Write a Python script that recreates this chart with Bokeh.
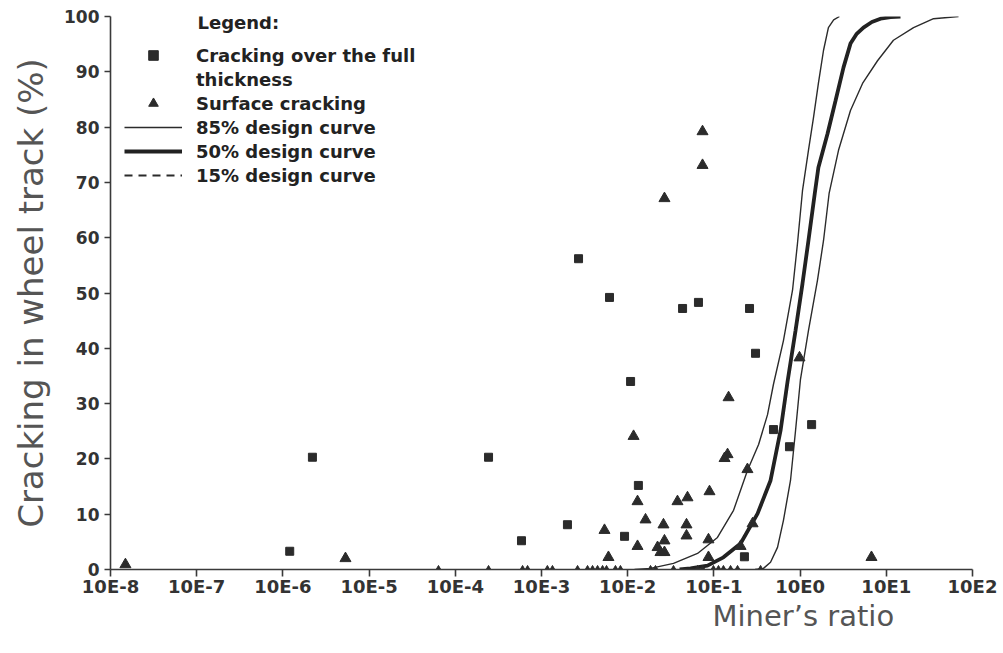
from bokeh.plotting import figure
from bokeh.models import (Range1d, FixedTicker, CustomJSTickFormatter, Legend,
                          LegendItem, Label, Title)
from bokeh.embed import file_html
from bokeh.resources import INLINE

# ---- axis ticks -------------------------------------------------------------
x_ticks = [1e-8, 1e-7, 1e-6, 1e-5, 1e-4, 1e-3, 1e-2, 1e-1, 1e0, 1e1, 1e2]
x_tick_labels = ["10E-8", "10E-7", "10E-6", "10E-5", "10E-4", "10E-3",
                 "10E-2", "10E-1", "10E0", "10E1", "10E2"]
y_ticks = [0, 10, 20, 30, 40, 50, 60, 70, 80, 90, 100]

# ---- cracking over the full thickness (Miner's ratio, % cracking) ----------
full_x = [1.20e-6, 2.20e-6, 2.43e-4, 5.86e-4, 2.00e-3, 2.69e-3, 6.15e-3,
          0.0433, 0.0662, 0.259, 0.304, 0.0108, 0.0133, 9.19e-3, 1.36,
          0.753, 0.226, 0.491]
full_y = [3.3, 20.3, 20.3, 5.2, 8.1, 56.2, 49.2,
          47.2, 48.3, 47.2, 39.1, 34.0, 15.2, 6.0, 26.2,
          22.2, 2.3, 25.3]

# ---- surface cracking -------------------------------------------------------
surf_x = [1.49e-8, 5.32e-6, 0.0738, 0.0738, 0.0267, 0.148, 0.0117, 0.144,
          0.133, 0.245, 0.0889, 0.0494, 0.0378, 0.0130, 0.0161, 0.0260,
          0.0481, 0.0481, 5.38e-3, 0.0130, 0.0267, 0.0222, 0.0240, 0.0267,
          5.98e-3, 0.0865, 0.0865, 0.984, 0.281, 0.204, 6.73]
surf_y = [0.9, 2.0, 79.2, 73.1, 67.1, 31.1, 24.1, 20.8,
          20.1, 18.1, 14.1, 13.0, 12.3, 12.3, 9.0, 8.1,
          8.1, 6.1, 7.1, 4.2, 5.2, 4.0, 3.1, 3.1,
          2.2, 5.4, 2.2, 38.3, 8.3, 4.2, 2.2]

# surface cracking sections with no measured cracking
zero_x = [6.38e-5, 2.43e-4, 6.03e-4, 6.89e-4, 1.17e-3, 1.34e-3, 2.62e-3,
          3.42e-3, 3.91e-3, 4.47e-3, 5.11e-3, 5.68e-3, 7.21e-3, 8.24e-3,
          0.0184, 0.0210, 0.0340, 0.0646, 0.0738, 0.0988, 0.113, 0.129,
          0.156, 0.188, 0.348]
zero_y = [0, 0, 0, 0, 0, 0, 0, 0, 0, 0, 0, 0, 0, 0,
          0, 0, 0, 0, 0, 0, 0, 0, 0, 0, 0]

# ---- design curves ----------------------------------------------------------
c85_x = [0.012, 0.0184, 0.034, 0.0646, 0.110, 0.169, 0.245, 0.330, 0.419,
         0.491, 0.641, 0.817, 0.933, 1.066, 1.25, 1.43, 1.63, 1.87, 2.13,
         2.45, 2.86]
c85_y = [0.0, 0.2, 1.1, 2.9, 5.8, 10.7, 17.9, 22.6, 28.0,
         33.5, 41.4, 50.5, 59.0, 68.5, 75.8, 81.7, 87.9, 93.9, 98.0,
         99.4, 100.0]

c50_x = [0.040, 0.0536, 0.0843, 0.129, 0.204, 0.321, 0.454, 0.593, 0.714,
         0.885, 1.066, 1.25, 1.48, 1.63, 2.08, 2.58, 3.19, 3.84, 4.50,
         5.43, 6.80, 8.57, 11.2, 14.6]
c50_y = [0.0, 0.2, 0.7, 2.2, 4.7, 10.1, 16.1, 25.1, 33.9,
         43.2, 51.7, 59.5, 68.0, 72.7, 78.8, 84.8, 90.8, 95.1, 96.8,
         98.0, 99.0, 99.6, 99.9, 100.0]

c15_x = [0.30, 0.376, 0.454, 0.547, 0.641, 0.774, 0.885, 1.01, 1.25, 1.59,
         1.87, 2.17, 2.79, 3.84, 5.30, 7.91, 12.1, 20.7, 35.3, 68.9]
c15_y = [0.0, 0.2, 1.3, 4.0, 8.9, 16.1, 25.1, 34.4, 43.2, 52.3,
         59.5, 68.0, 75.8, 83.0, 87.9, 92.0, 95.7, 98.0, 99.6, 100.0]

INK = "#2b2b2b"
AXIS = "#3a3a3a"

p = figure(width=1003, height=653, x_axis_type="log",
           x_range=Range1d(1e-8, 1e2), y_range=Range1d(0, 100),
           output_backend="svg", toolbar_location=None,
           min_border_left=110, min_border_right=31,
           min_border_top=16, min_border_bottom=84)
p.outline_line_color = None
p.xgrid.visible = False
p.ygrid.visible = False
p.background_fill_color = "white"
p.border_fill_color = "white"

# x axis: decades labelled in the 10E-n style
p.xaxis.ticker = FixedTicker(ticks=x_ticks, minor_ticks=[])
p.xaxis.formatter = CustomJSTickFormatter(
    args=dict(decades=x_ticks, names=x_tick_labels),
    code="""
    const k = Math.log10(tick);
    for (let i = 0; i < decades.length; i++) {
        if (Math.abs(Math.log10(decades[i]) - k) < 1e-6) { return names[i]; }
    }
    return "";
    """)
p.yaxis.ticker = FixedTicker(ticks=y_ticks, minor_ticks=[])

for ax in (p.xaxis[0], p.yaxis[0]):
    ax.axis_line_color = AXIS
    ax.axis_line_width = 1.6
    ax.major_tick_line_color = AXIS
    ax.major_tick_line_width = 1.6
    ax.major_tick_in = 0
    ax.minor_tick_line_color = None
    ax.major_label_text_font = "DejaVu Sans"
    ax.major_label_text_font_style = "bold"
    ax.major_label_text_color = "#333333"

p.xaxis.major_label_text_font_size = "18px"
p.yaxis.major_label_text_font_size = "17px"
p.xaxis.major_tick_out = 7
p.xaxis.major_label_standoff = -1
p.yaxis.major_tick_out = 6
p.yaxis.major_label_standoff = 5

p.yaxis.axis_label = "Cracking in wheel track (%)"
p.yaxis.axis_label_text_font = "DejaVu Sans"
p.yaxis.axis_label_text_font_style = "normal"
p.yaxis.axis_label_text_font_size = "34px"
p.yaxis.axis_label_text_color = "#555555"
p.yaxis.axis_label_standoff = 10

# design curves
r85 = p.line(c85_x, c85_y, line_color=INK, line_width=1.4)
r50 = p.line(c50_x, c50_y, line_color="#222222", line_width=3.8)
p.line(c15_x, c15_y, line_color=INK, line_width=1.4)

# observations
r_zero = p.scatter(zero_x, zero_y, marker="triangle", size=7,
                   fill_color=INK, line_color=INK)
r_full = p.scatter(full_x, full_y, marker="square", size=8,
                   fill_color=INK, line_color=INK)
r_surf = p.scatter(surf_x, surf_y, marker="triangle", size=11,
                   fill_color=INK, line_color=INK)

# legend-only entries (no visible data)
nan = float("nan")
r_blank = p.line([nan], [nan], line_alpha=0)
r15_key = p.line([nan], [nan], line_color=INK, line_width=1.8,
                 line_dash="8 6")

legend = Legend(
    items=[
        LegendItem(label="Cracking over the full", renderers=[r_full]),
        LegendItem(label="thickness", renderers=[r_blank]),
        LegendItem(label="Surface cracking", renderers=[r_surf]),
        LegendItem(label="85% design curve", renderers=[r85]),
        LegendItem(label="50% design curve", renderers=[r50]),
        LegendItem(label="15% design curve", renderers=[r15_key]),
    ],
    location=(14, 382),
    orientation="vertical",
    padding=0, spacing=0, margin=0,
    glyph_width=58, glyph_height=24, label_height=24,
    label_standoff=14,
    label_text_font="DejaVu Sans", label_text_font_style="bold",
    label_text_font_size="18px", label_text_color="#222222",
    border_line_color=None, background_fill_alpha=0,
)
p.add_layout(legend, "center")

p.add_layout(Label(x=87, y=547, x_units="screen", y_units="screen",
                   text="Legend:", text_font="DejaVu Sans",
                   text_font_style="bold", text_font_size="18px",
                   text_color="#222222", text_baseline="alphabetic"))

p.add_layout(Title(text="Miner\u2019s ratio", align="left", offset=602,
                   text_font="DejaVu Sans", text_font_style="normal",
                   text_font_size="29px", text_color="#555555",
                   standoff=-6), "below")

open("out.html", "w").write(file_html(p, INLINE))
